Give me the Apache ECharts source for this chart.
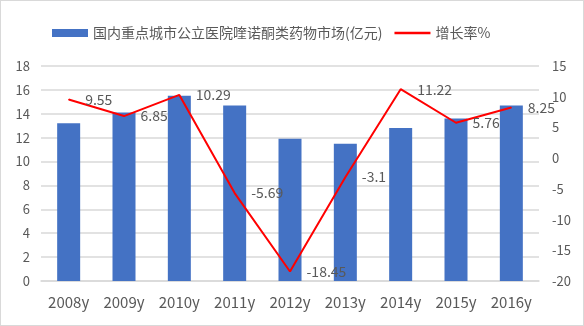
<!DOCTYPE html>
<html>
<head>
<meta charset="utf-8">
<script src="https://cdn.jsdelivr.net/npm/echarts@6/dist/echarts.min.js"></script>
<style>
  html, body { margin: 0; padding: 0; background: #fff; }
  #chart { width: 584px; height: 326px; box-sizing: border-box; border: 1px solid #d9d9d9; }
</style>
</head>
<body>
<div id="chart"></div>
<script>
// 年份
const years = ['2008y', '2009y', '2010y', '2011y', '2012y', '2013y', '2014y', '2015y', '2016y'];
// 市场规模（亿元）
const marketSize = [13.2, 14.1, 15.5, 14.7, 11.9, 11.5, 12.8, 13.6, 14.7];
// 增长率（%）
const growthRate = [9.55, 6.85, 10.29, -5.69, -18.45, -3.1, 11.22, 5.76, 8.25];

const barName = '国内重点城市公立医院喹诺酮类药物市场(亿元)';
const lineName = '增长率%';
const font = '"Noto Sans CJK SC", "Noto Sans", sans-serif';
const textColor = '#595959';

const chart = echarts.init(document.getElementById('chart'), null, { renderer: 'canvas' });
chart.setOption({
  animation: false,
  textStyle: { fontFamily: font },
  legend: {
    left: 46,
    top: 20,
    itemGap: 12,
    itemWidth: 36,
    itemHeight: 8,
    textStyle: { fontFamily: font, fontSize: 14, color: textColor },
    data: [
      { name: barName, icon: 'rect' },
      { name: lineName, icon: 'path://M0,0 H36 V2.4 H0 Z' }
    ]
  },
  grid: { left: 40, right: 44, top: 65, bottom: 44, containLabel: false },
  xAxis: {
    type: 'category',
    data: years,
    axisTick: { show: false },
    axisLine: { lineStyle: { color: '#d9d9d9', width: 1.5 } },
    axisLabel: { color: textColor, fontSize: 15, margin: 14, fontFamily: font }
  },
  yAxis: [
    {
      type: 'value',
      min: 0, max: 18, interval: 2,
      axisLine: { show: false },
      axisTick: { show: false },
      splitLine: { lineStyle: { color: '#d9d9d9', width: 1.5 } },
      axisLabel: { color: textColor, fontSize: 13, margin: 11, fontFamily: font }
    },
    {
      type: 'value',
      min: -20, max: 15, interval: 5,
      axisLine: { show: false },
      axisTick: { show: false },
      splitLine: { show: false },
      axisLabel: { color: textColor, fontSize: 13, margin: 13, fontFamily: font }
    }
  ],
  series: [
    {
      name: barName,
      type: 'bar',
      data: marketSize,
      barWidth: 23,
      itemStyle: { color: '#4472c4' }
    },
    {
      name: lineName,
      type: 'line',
      yAxisIndex: 1,
      data: growthRate,
      symbol: 'circle',
      symbolSize: 1,
      showSymbol: true,
      lineStyle: { color: '#ff0000', width: 2 },
      itemStyle: { color: '#ff0000' },
      label: {
        show: true,
        position: 'right',
        distance: 16,
        color: textColor,
        fontSize: 14,
        fontFamily: font
      }
    }
  ]
});
</script>
</body>
</html>
